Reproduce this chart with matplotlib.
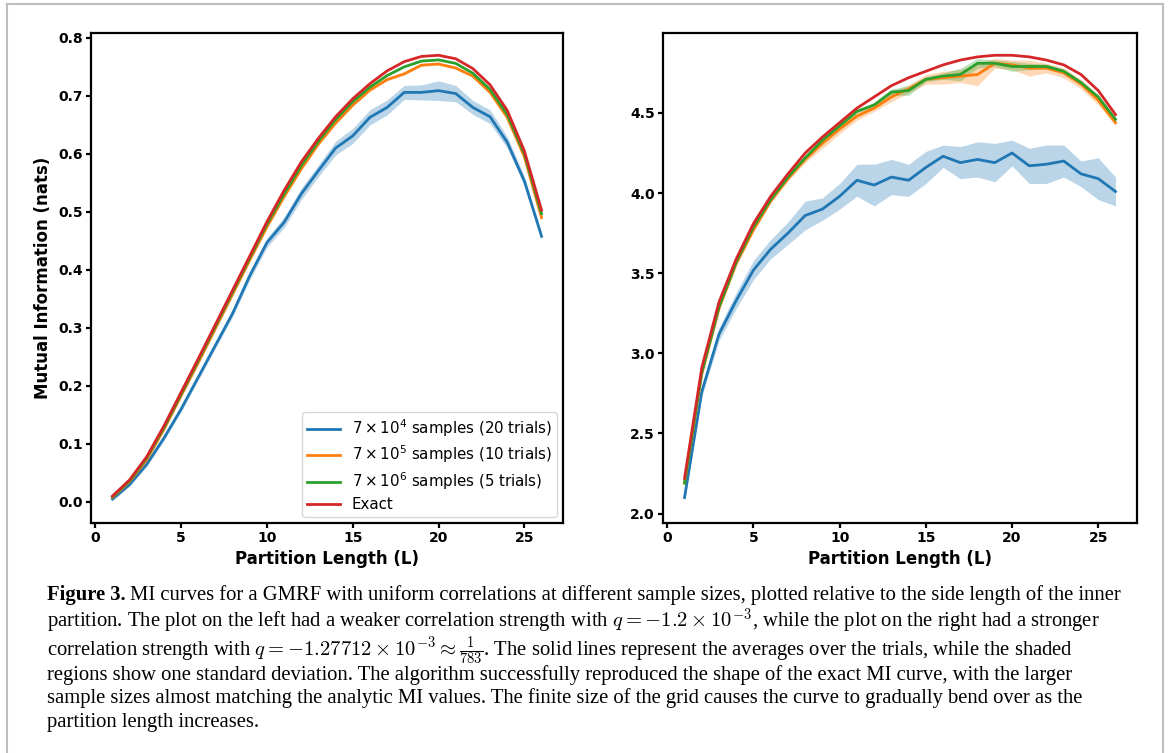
import matplotlib
matplotlib.use("Agg")
import matplotlib.pyplot as plt
from matplotlib.lines import Line2D
import numpy as np

# Partition lengths
L = list(range(1, 27))

# Left panel: q = -1.2e-3
left_7e4 = [0.005, 0.030, 0.065, 0.110, 0.160, 0.215, 0.270, 0.325, 0.390, 0.447,
            0.482, 0.531, 0.571, 0.610, 0.631, 0.663, 0.680, 0.706, 0.706, 0.709,
            0.704, 0.680, 0.664, 0.620, 0.553, 0.458]
left_7e4_std = [0.003, 0.003, 0.004, 0.004, 0.005, 0.005, 0.005, 0.006, 0.007, 0.008,
                0.009, 0.010, 0.010, 0.012, 0.013, 0.013, 0.013, 0.012, 0.013, 0.017,
                0.014, 0.012, 0.012, 0.010, 0.008, 0.006]
left_7e5 = [0.008, 0.035, 0.073, 0.125, 0.183, 0.240, 0.299, 0.358, 0.417, 0.474,
            0.526, 0.574, 0.617, 0.653, 0.684, 0.710, 0.728, 0.738, 0.753, 0.755,
            0.748, 0.734, 0.706, 0.663, 0.595, 0.490]
left_7e5_std = [0.002] * 26
left_7e6 = [0.009, 0.036, 0.076, 0.128, 0.186, 0.244, 0.303, 0.362, 0.421, 0.479,
            0.531, 0.580, 0.622, 0.659, 0.690, 0.715, 0.735, 0.750, 0.760, 0.762,
            0.756, 0.739, 0.711, 0.668, 0.600, 0.497]
left_7e6_std = [0.001] * 26
left_exact = [0.010, 0.038, 0.078, 0.131, 0.189, 0.247, 0.306, 0.365, 0.424, 0.483,
              0.537, 0.586, 0.627, 0.664, 0.695, 0.721, 0.743, 0.759, 0.768, 0.770,
              0.764, 0.747, 0.719, 0.675, 0.605, 0.503]

# Right panel: q = -1.27712e-3
right_7e4 = [2.10, 2.76, 3.12, 3.33, 3.52, 3.65, 3.75, 3.86, 3.90, 3.98,
             4.08, 4.05, 4.10, 4.08, 4.16, 4.23, 4.19, 4.21, 4.19, 4.25,
             4.17, 4.18, 4.20, 4.12, 4.09, 4.01]
right_7e4_std = [0.02, 0.03, 0.04, 0.05, 0.06, 0.06, 0.07, 0.09, 0.07, 0.08,
                 0.10, 0.13, 0.11, 0.10, 0.10, 0.07, 0.10, 0.11, 0.12, 0.08,
                 0.11, 0.12, 0.10, 0.08, 0.13, 0.09]
right_7e5 = [2.19, 2.87, 3.28, 3.56, 3.77, 3.95, 4.09, 4.21, 4.31, 4.40,
             4.48, 4.53, 4.60, 4.65, 4.71, 4.72, 4.73, 4.74, 4.81, 4.80,
             4.78, 4.78, 4.75, 4.68, 4.58, 4.44]
right_7e5_std = [0.01, 0.01, 0.01, 0.01, 0.01, 0.01, 0.015, 0.02, 0.03, 0.03,
                 0.025, 0.02, 0.03, 0.025, 0.03, 0.04, 0.04, 0.07, 0.03, 0.03,
                 0.05, 0.03, 0.03, 0.03, 0.03, 0.02]
right_7e6 = [2.19, 2.88, 3.29, 3.57, 3.79, 3.96, 4.10, 4.22, 4.33, 4.42,
             4.51, 4.55, 4.63, 4.64, 4.71, 4.73, 4.74, 4.81, 4.81, 4.79,
             4.79, 4.79, 4.76, 4.69, 4.60, 4.46]
right_7e6_std = [0.005, 0.005, 0.005, 0.005, 0.005, 0.005, 0.005, 0.01, 0.01, 0.01,
                 0.01, 0.015, 0.02, 0.03, 0.015, 0.02, 0.04, 0.03, 0.02, 0.03,
                 0.02, 0.015, 0.015, 0.01, 0.01, 0.01]
right_exact = [2.22, 2.91, 3.32, 3.59, 3.81, 3.98, 4.12, 4.25, 4.35, 4.44,
               4.53, 4.60, 4.67, 4.72, 4.76, 4.80, 4.83, 4.85, 4.86, 4.86,
               4.85, 4.83, 4.80, 4.74, 4.64, 4.49]

labels = [r"$7\times10^4$ samples (20 trials)",
          r"$7\times10^5$ samples (10 trials)",
          r"$7\times10^6$ samples (5 trials)",
          "Exact"]
colors = ["tab:blue", "tab:orange", "tab:green", "tab:red"]

caption_lines = [
    "MI curves for a GMRF with uniform correlations at different sample sizes, plotted relative to the side length of the inner",
    r"partition. The plot on the left had a weaker correlation strength with $q = -1.2\times10^{-3}$, while the plot on the right had a stronger",
    r"correlation strength with $q = -1.27712\times10^{-3} \approx \frac{1}{783}$. The solid lines represent the averages over the trials, while the shaded",
    "regions show one standard deviation. The algorithm successfully reproduced the shape of the exact MI curve, with the larger",
    "sample sizes almost matching the analytic MI values. The finite size of the grid causes the curve to gradually bend over as the",
    "partition length increases.",
]

W, H = 1168, 753
fig = plt.figure(figsize=(W / 100, H / 100), dpi=100)
fig.patch.set_facecolor("white")

ax1 = fig.add_axes([91 / W, 1 - 523 / H, (563 - 91) / W, (523 - 33) / H])
ax2 = fig.add_axes([663 / W, 1 - 523 / H, (1137 - 663) / W, (523 - 33) / H])


def draw_panel(ax, series, stds, exact):
    x = np.array(L)
    for m, s, c, lab in zip(series, stds, colors[:3], labels[:3]):
        m = np.array(m)
        s = np.array(s)
        ax.fill_between(x, m - s, m + s, color=c, alpha=0.3, linewidth=0)
        ax.plot(x, m, color=c, linewidth=2, label=lab)
    ax.plot(x, exact, color=colors[3], linewidth=2, label=labels[3])
    ax.set_xticks([0, 5, 10, 15, 20, 25])
    ax.set_xlabel("Partition Length (L)", fontsize=12, fontweight="bold", labelpad=3)
    for spine in ax.spines.values():
        spine.set_linewidth(1.6)
    ax.tick_params(width=1.6, length=3.5, pad=2.5, labelsize=10)


draw_panel(ax1, [left_7e4, left_7e5, left_7e6],
           [left_7e4_std, left_7e5_std, left_7e6_std], left_exact)
ax1.set_yticks(np.arange(0, 0.81, 0.1))
ax1.set_ylabel("Mutual Information (nats)", fontsize=12, fontweight="bold")
ax1.legend(loc="lower right", fontsize=10.8, labelspacing=0.32,
           handlelength=2.2, borderpad=0.35, borderaxespad=0.4)

draw_panel(ax2, [right_7e4, right_7e5, right_7e6],
           [right_7e4_std, right_7e5_std, right_7e6_std], right_exact)
ax2.set_yticks(np.arange(2.0, 4.51, 0.5))

for ax in (ax1, ax2):
    for t in ax.get_xticklabels() + ax.get_yticklabels():
        t.set_fontweight("bold")

# page frame around the figure
frame_kw = dict(color="#bdbdbd", linewidth=1.5, transform=fig.transFigure)
fig.add_artist(Line2D([7 / W, 1163 / W], [1 - 4 / H, 1 - 4 / H], **frame_kw))
fig.add_artist(Line2D([7 / W, 7 / W], [1 - 4 / H, 0], **frame_kw))
fig.add_artist(Line2D([1163 / W, 1163 / W], [1 - 4 / H, 0], **frame_kw))

# caption
cap_font = "Liberation Serif"
cap_size = 14.9
x0 = 47 / W
baselines = [600, 627.5, 655.5, 680, 703.5, 727]
renderer = fig.canvas.get_renderer()
head = fig.text(x0, 1 - baselines[0] / H, "Figure 3.", fontsize=cap_size,
                family=cap_font, fontweight="bold", va="baseline")
bb = head.get_window_extent(renderer)
space = 4
fig.text((bb.x1 + space) / W, 1 - baselines[0] / H, caption_lines[0],
         fontsize=cap_size, family=cap_font, va="baseline", math_fontfamily="cm")
for line, yb in zip(caption_lines[1:], baselines[1:]):
    fig.text(x0, 1 - yb / H, line, fontsize=cap_size, family=cap_font,
             va="baseline", math_fontfamily="cm")

fig.savefig("out.png", dpi=100)
